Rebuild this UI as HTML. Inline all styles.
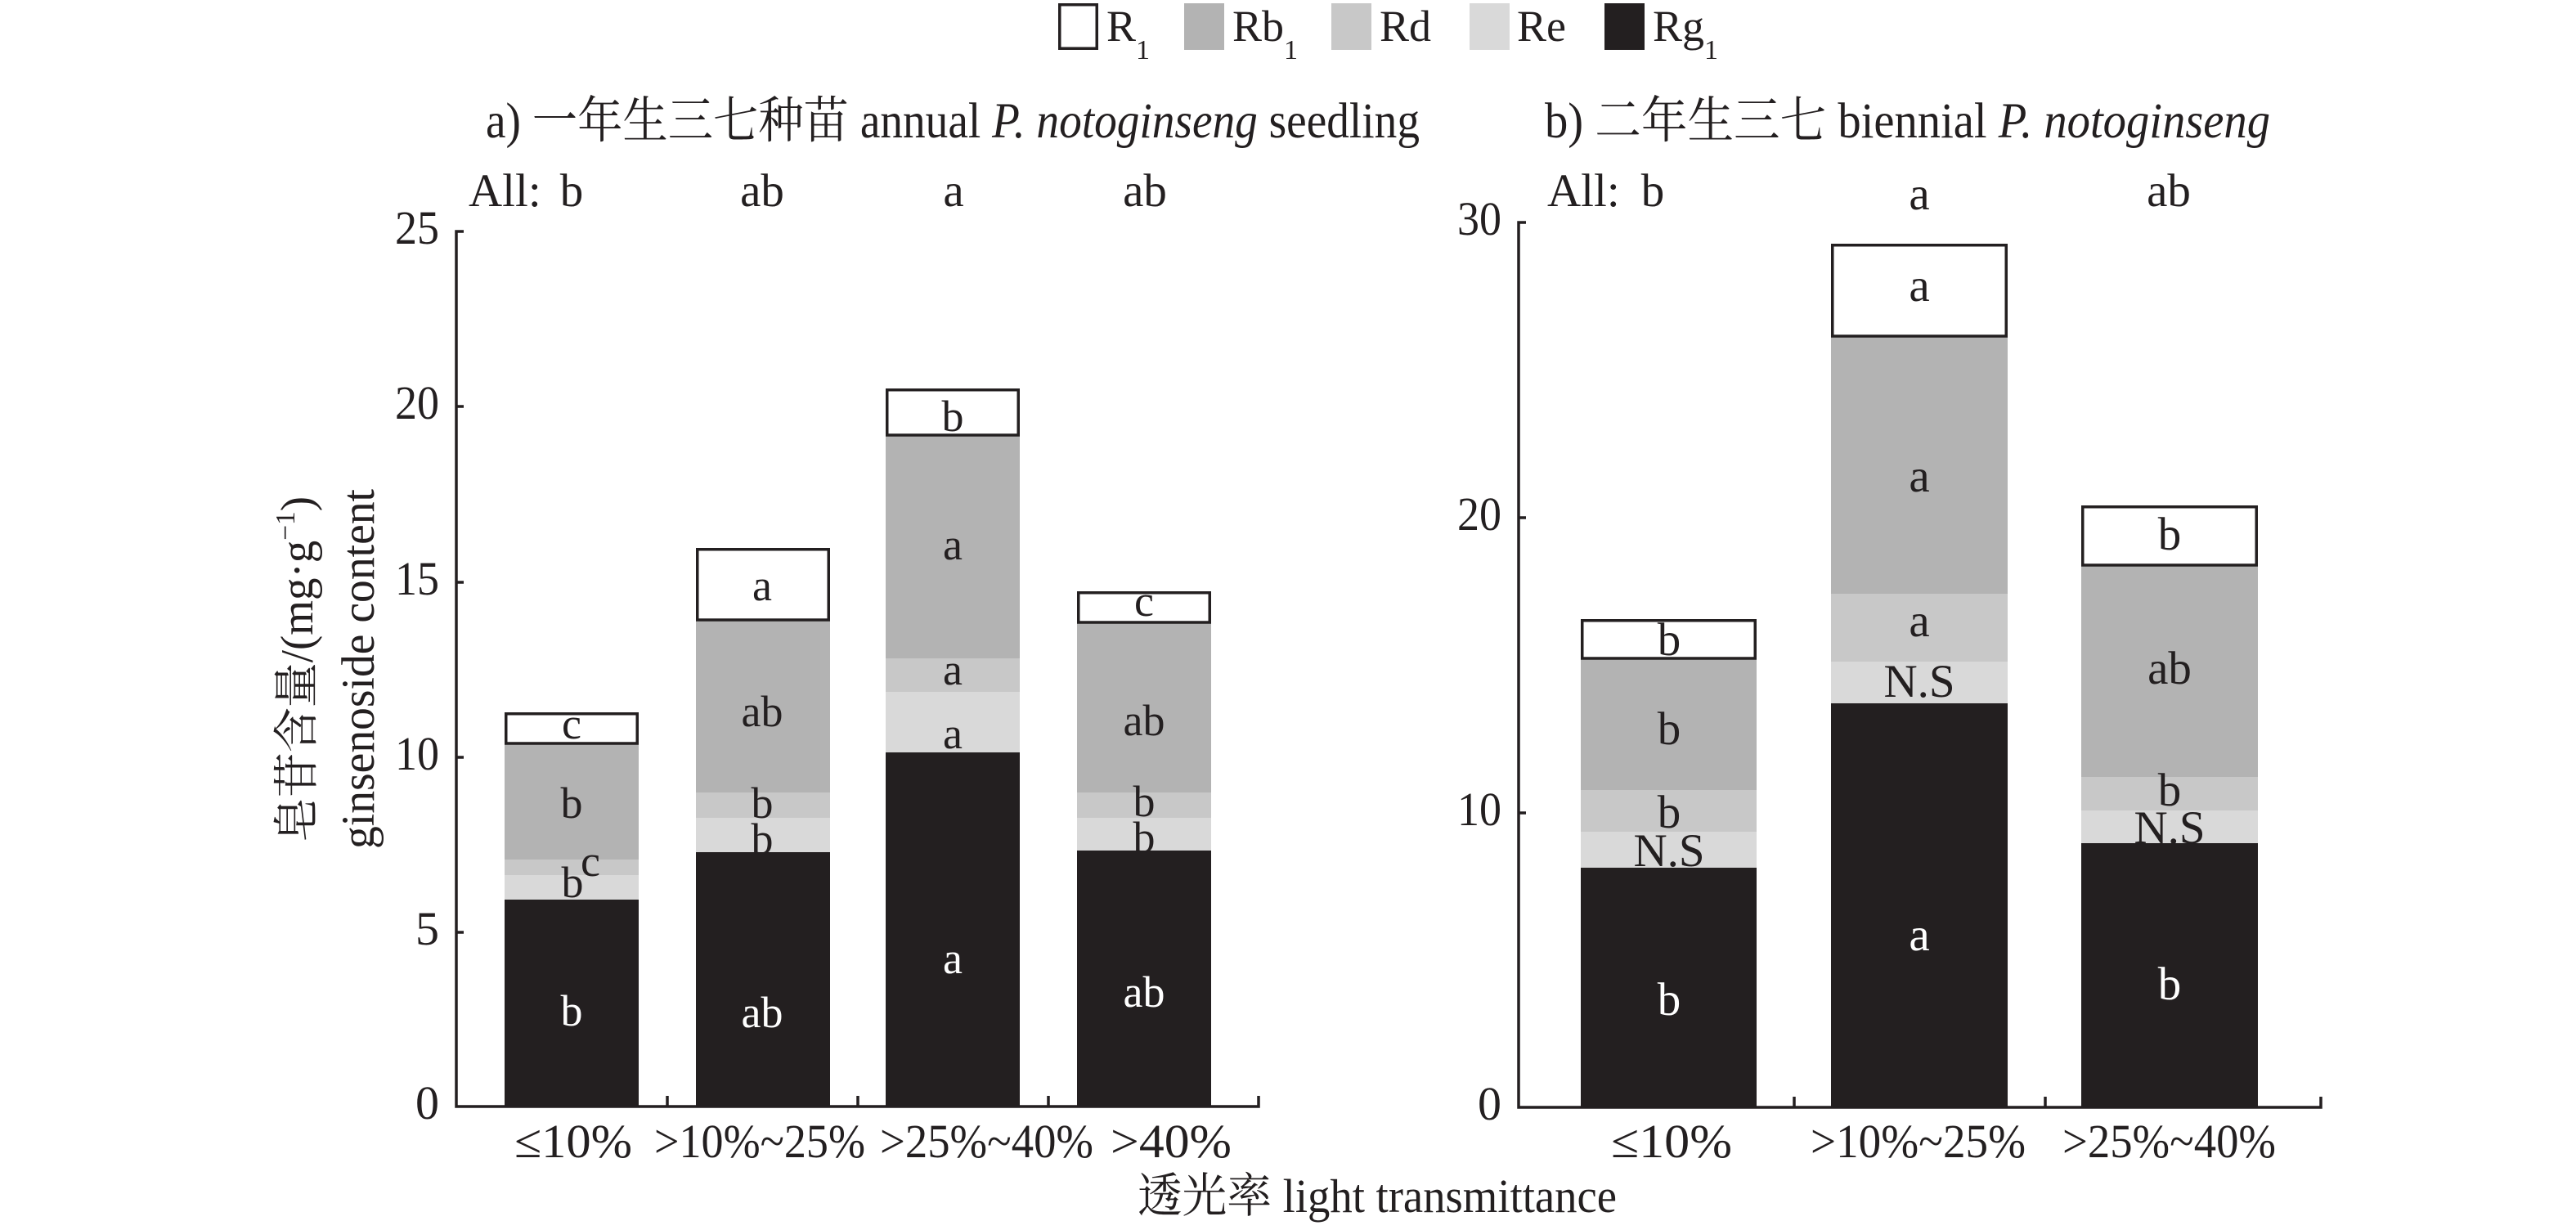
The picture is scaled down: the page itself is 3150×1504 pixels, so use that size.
<!DOCTYPE html>
<html>
<head>
<meta charset="utf-8">
<style>
html,body{margin:0;padding:0;background:#fff;}
svg{display:block;}
text{font-family:"Liberation Serif","Noto Serif CJK SC",serif;fill:#231f20;}
.w{fill:#ffffff;}
</style>
</head>
<body>
<svg width="3150" height="1504" viewBox="0 0 3150 1504" xmlns="http://www.w3.org/2000/svg">
<rect x="0" y="0" width="3150" height="1504" fill="#fff"/>

<!-- Legend -->
<rect x="1295.75" y="5.75" width="45.5" height="53.5" fill="#fff" stroke="#231f20" stroke-width="3.5"/>
<text x="1353" y="50" font-size="54">R<tspan font-size="34" dy="22">1</tspan></text>
<rect x="1448" y="4" width="49" height="57" fill="#b3b3b3"/>
<text x="1507" y="50" font-size="54">Rb<tspan font-size="34" dy="22">1</tspan></text>
<rect x="1628" y="4" width="49" height="57" fill="#c8c8c8"/>
<text x="1687" y="50" font-size="54">Rd</text>
<rect x="1797" y="4" width="49" height="57" fill="#d9d9d9"/>
<text x="1855" y="50" font-size="54">Re</text>
<rect x="1962" y="4" width="49" height="57" fill="#231f20"/>
<text x="2021" y="50" font-size="54">Rg<tspan font-size="34" dy="22">1</tspan></text>

<!-- Titles -->
<text x="594" y="168" font-size="61" textLength="1142" lengthAdjust="spacingAndGlyphs">a) 一年生三七种苗 annual <tspan font-style="italic">P. notoginseng</tspan> seedling</text>
<text x="1889" y="168" font-size="61" textLength="887" lengthAdjust="spacingAndGlyphs">b) 二年生三七 biennial <tspan font-style="italic">P. notoginseng</tspan></text>

<!-- All row -->
<text x="573" y="252" font-size="57">All:</text>
<text x="699" y="252" font-size="57" text-anchor="middle">b</text>
<text x="932" y="252" font-size="57" text-anchor="middle">ab</text>
<text x="1166" y="252" font-size="57" text-anchor="middle">a</text>
<text x="1400" y="252" font-size="57" text-anchor="middle">ab</text>

<text x="1892" y="252" font-size="57">All:</text>
<text x="2021" y="252" font-size="57" text-anchor="middle">b</text>
<text x="2347" y="256" font-size="57" text-anchor="middle">a</text>
<text x="2652" y="252" font-size="57" text-anchor="middle">ab</text>

<!-- Y axis labels -->
<text transform="translate(382,1030) rotate(-90)" x="0" y="0" font-size="56" textLength="423" lengthAdjust="spacingAndGlyphs">皂苷含量/(mg·g<tspan font-size="34" dy="-22">−1</tspan><tspan dy="22">)</tspan></text>
<text transform="translate(457,1038) rotate(-90)" x="0" y="0" font-size="57" textLength="440" lengthAdjust="spacingAndGlyphs">ginsenoside content</text>

<!-- ===== Chart a bars ===== -->
<rect x="617" y="1100" width="164" height="254" fill="#231f20"/>
<rect x="617" y="1070" width="164" height="30" fill="#d9d9d9"/>
<rect x="617" y="1051" width="164" height="19" fill="#c8c8c8"/>
<rect x="617" y="909" width="164" height="142" fill="#b3b3b3"/>
<rect x="618.75" y="872.75" width="160.5" height="36.25" fill="#fff" stroke="#231f20" stroke-width="3.5"/>

<rect x="851" y="1042" width="164" height="312" fill="#231f20"/>
<rect x="851" y="1000" width="164" height="42" fill="#d9d9d9"/>
<rect x="851" y="969" width="164" height="31" fill="#c8c8c8"/>
<rect x="851" y="758" width="164" height="211" fill="#b3b3b3"/>
<rect x="852.75" y="671.75" width="160.5" height="86.25" fill="#fff" stroke="#231f20" stroke-width="3.5"/>

<rect x="1083" y="920" width="164" height="434" fill="#231f20"/>
<rect x="1083" y="846" width="164" height="74" fill="#d9d9d9"/>
<rect x="1083" y="805" width="164" height="41" fill="#c8c8c8"/>
<rect x="1083" y="532" width="164" height="273" fill="#b3b3b3"/>
<rect x="1084.75" y="476.75" width="160.5" height="55.25" fill="#fff" stroke="#231f20" stroke-width="3.5"/>

<rect x="1317" y="1040" width="164" height="314" fill="#231f20"/>
<rect x="1317" y="1000" width="164" height="40" fill="#d9d9d9"/>
<rect x="1317" y="969" width="164" height="31" fill="#c8c8c8"/>
<rect x="1317" y="761" width="164" height="208" fill="#b3b3b3"/>
<rect x="1318.75" y="724.75" width="160.5" height="36.25" fill="#fff" stroke="#231f20" stroke-width="3.5"/>

<!-- Chart a labels -->
<g font-size="54" text-anchor="middle">
<text x="699" y="903">c</text>
<text x="699" y="1000">b</text>
<text x="700" y="1097">b</text>
<text x="722" y="1071">c</text>
<text class="w" x="699" y="1254">b</text>

<text x="932" y="734">a</text>
<text x="932" y="888">ab</text>
<text x="932" y="1000">b</text>
<text x="932" y="1044">b</text>
<text class="w" x="932" y="1256">ab</text>

<text x="1165" y="527">b</text>
<text x="1165" y="684">a</text>
<text x="1165" y="837">a</text>
<text x="1165" y="915">a</text>
<text class="w" x="1165" y="1190">a</text>

<text x="1399" y="753">c</text>
<text x="1399" y="899">ab</text>
<text x="1399" y="998">b</text>
<text x="1399" y="1042">b</text>
<text class="w" x="1399" y="1231">ab</text>
</g>

<!-- Chart a axes -->
<g stroke="#231f20" stroke-width="3.5" fill="none">
<path d="M567,283 H558 V1353 H1539 V1340"/>
<path d="M558,497 H567 M558,712 H567 M558,926 H567 M558,1140 H567"/>
<path d="M816,1353 V1340 M1049,1353 V1340 M1282,1353 V1340"/>
</g>
<g font-size="58" text-anchor="end">
<text x="537" y="298" textLength="54" lengthAdjust="spacingAndGlyphs">25</text>
<text x="537" y="512" textLength="54" lengthAdjust="spacingAndGlyphs">20</text>
<text x="537" y="727" textLength="54" lengthAdjust="spacingAndGlyphs">15</text>
<text x="537" y="941" textLength="54" lengthAdjust="spacingAndGlyphs">10</text>
<text x="537" y="1155">5</text>
<text x="537" y="1368">0</text>
</g>
<g font-size="58">
<text x="629" y="1415" textLength="144" lengthAdjust="spacingAndGlyphs">≤10%</text>
<text x="800" y="1415" textLength="258" lengthAdjust="spacingAndGlyphs">&gt;10%~25%</text>
<text x="1076" y="1415" textLength="261" lengthAdjust="spacingAndGlyphs">&gt;25%~40%</text>
<text x="1358" y="1415" textLength="148" lengthAdjust="spacingAndGlyphs">&gt;40%</text>
</g>

<!-- ===== Chart b bars ===== -->
<rect x="1933" y="1061" width="215" height="293" fill="#231f20"/>
<rect x="1933" y="1017" width="215" height="44" fill="#d9d9d9"/>
<rect x="1933" y="966" width="215" height="51" fill="#c8c8c8"/>
<rect x="1933" y="805" width="215" height="161" fill="#b3b3b3"/>
<rect x="1934.75" y="758.75" width="211.5" height="46.25" fill="#fff" stroke="#231f20" stroke-width="3.5"/>

<rect x="2239" y="860" width="216" height="494" fill="#231f20"/>
<rect x="2239" y="809" width="216" height="51" fill="#d9d9d9"/>
<rect x="2239" y="726" width="216" height="83" fill="#c8c8c8"/>
<rect x="2239" y="411" width="216" height="315" fill="#b3b3b3"/>
<rect x="2240.75" y="299.75" width="212.5" height="111.25" fill="#fff" stroke="#231f20" stroke-width="3.5"/>

<rect x="2545" y="1031" width="216" height="323" fill="#231f20"/>
<rect x="2545" y="991" width="216" height="40" fill="#d9d9d9"/>
<rect x="2545" y="950" width="216" height="41" fill="#c8c8c8"/>
<rect x="2545" y="691" width="216" height="259" fill="#b3b3b3"/>
<rect x="2546.75" y="619.75" width="212.5" height="71.25" fill="#fff" stroke="#231f20" stroke-width="3.5"/>

<!-- Chart b labels -->
<g font-size="57" text-anchor="middle">
<text x="2041" y="801">b</text>
<text x="2041" y="910">b</text>
<text x="2041" y="1012">b</text>
<text x="2041" y="1059">N.S</text>
<text class="w" x="2041" y="1241">b</text>

<text x="2347" y="368">a</text>
<text x="2347" y="601">a</text>
<text x="2347" y="778">a</text>
<text x="2347" y="852">N.S</text>
<text class="w" x="2347" y="1162">a</text>

<text x="2653" y="672">b</text>
<text x="2653" y="836">ab</text>
<text x="2653" y="985">b</text>
<text x="2653" y="1031">N.S</text>
<text class="w" x="2653" y="1222">b</text>
</g>

<!-- Chart b axes -->
<g stroke="#231f20" stroke-width="3.5" fill="none">
<path d="M1866,272 H1857 V1354 H2838 V1341"/>
<path d="M1857,633 H1866 M1857,994 H1866"/>
<path d="M2194,1354 V1341 M2501,1354 V1341"/>
</g>
<g font-size="58" text-anchor="end">
<text x="1836" y="287" textLength="54" lengthAdjust="spacingAndGlyphs">30</text>
<text x="1836" y="648" textLength="54" lengthAdjust="spacingAndGlyphs">20</text>
<text x="1836" y="1009" textLength="54" lengthAdjust="spacingAndGlyphs">10</text>
<text x="1836" y="1369">0</text>
</g>
<g font-size="58">
<text x="1970" y="1415" textLength="148" lengthAdjust="spacingAndGlyphs">≤10%</text>
<text x="2214" y="1415" textLength="263" lengthAdjust="spacingAndGlyphs">&gt;10%~25%</text>
<text x="2522" y="1415" textLength="261" lengthAdjust="spacingAndGlyphs">&gt;25%~40%</text>
</g>

<!-- X axis title -->
<text x="1391" y="1482" font-size="58" textLength="586" lengthAdjust="spacingAndGlyphs">透光率 light transmittance</text>
</svg>
</body>
</html>
